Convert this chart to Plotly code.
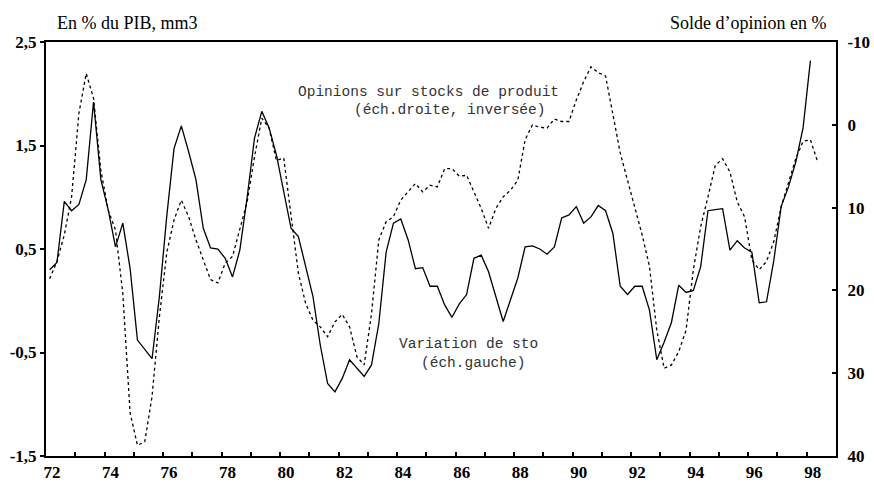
"""Variation de stocks vs opinions sur stocks de produit (dual axis, right inverted)."""

import plotly.graph_objects as go

# quarterly, first point 1972 Q1 (plotted at mid-quarter)
START_YEAR = 72.125
STEP = 0.25

variation_stocks = [
    0.30, 0.37, 0.96, 0.87, 0.93, 1.17, 1.92, 1.17, 0.88, 0.52,
    0.75, 0.31, -0.38, -0.47, -0.56, 0.04, 0.81, 1.47, 1.69, 1.44,
    1.17, 0.70, 0.51, 0.50, 0.41, 0.23, 0.49, 1.00, 1.57, 1.83,
    1.67, 1.41, 1.07, 0.70, 0.62, 0.33, 0.04, -0.43, -0.80, -0.88,
    -0.75, -0.57, -0.65, -0.73, -0.62, -0.22, 0.47, 0.75, 0.79, 0.59,
    0.31, 0.32, 0.14, 0.14, -0.04, -0.16, -0.03, 0.06, 0.41, 0.44,
    0.28, 0.04, -0.20, 0.01, 0.22, 0.52, 0.53, 0.50, 0.45, 0.52,
    0.80, 0.83, 0.91, 0.75, 0.81, 0.92, 0.87, 0.65, 0.14, 0.06,
    0.14, 0.14, -0.09, -0.57, -0.40, -0.21, 0.15, 0.08, 0.10, 0.33,
    0.87, 0.88, 0.89, 0.49, 0.58, 0.51, 0.47, -0.02, -0.01, 0.39,
    0.91, 1.10, 1.34, 1.67, 2.32,
]

opinions_stocks = [
    18.6, 16.5, 13.3, 8.7, -1.4, -6.2, -3.2, 5.5, 10.3, 12.7,
    20.4, 34.8, 38.7, 38.3, 32.8, 23.2, 15.5, 11.5, 9.1, 11.1,
    13.9, 16.3, 18.7, 19.1, 16.7, 15.9, 12.7, 9.3, 3.9, -0.8,
    0.4, 4.3, 4.0, 10.7, 17.9, 21.6, 23.6, 24.4, 25.6, 23.8,
    22.9, 24.4, 28.0, 29.0, 22.8, 13.9, 11.7, 11.1, 9.1, 8.1,
    7.1, 8.1, 7.3, 7.5, 5.3, 5.3, 6.2, 6.1, 8.1, 10.1,
    12.5, 10.1, 8.7, 7.9, 6.7, 1.8, 0.0, 0.3, 0.4, -0.7,
    -0.4, -0.4, -3.0, -5.2, -7.0, -6.3, -5.9, -1.0, 3.4, 6.7,
    9.9, 13.3, 17.1, 24.8, 29.4, 29.0, 27.4, 24.8, 17.5, 12.3,
    8.7, 4.9, 4.1, 5.7, 9.3, 11.1, 16.3, 17.5, 16.5, 14.1,
    9.9, 7.1, 4.1, 2.0, 1.8, 4.5,
]

year_ticks = list(range(72, 100))
year_labels = [str(y) if y % 2 == 0 and y < 99 else "" for y in year_ticks]

left_ticks = [-1.5, -0.5, 0.5, 1.5, 2.5]
left_labels = ["-1,5", "-0,5", "0,5", "1,5", "2,5"]
right_ticks = [-10, 0, 10, 20, 30, 40]
right_labels = ["-10", "0", "10", "20", "30", "40"]

x_solid = [START_YEAR + STEP * i for i in range(len(variation_stocks))]
x_dash = [START_YEAR + STEP * i for i in range(len(opinions_stocks))]

SERIF = "'Century Schoolbook L', 'TeX Gyre Schoolbook', C059, 'Liberation Serif', 'Times New Roman', serif"
MONO = "'Liberation Mono', 'Courier New', Courier, monospace"

fig = go.Figure()
fig.add_trace(
    go.Scatter(
        x=x_dash,
        y=opinions_stocks,
        yaxis="y2",
        mode="lines",
        line={"color": "black", "width": 1.3, "dash": "3px,3px"},
        showlegend=False,
        hoverinfo="skip",
    )
)
fig.add_trace(
    go.Scatter(
        x=x_solid,
        y=variation_stocks,
        mode="lines",
        line={"color": "black", "width": 1.3},
        showlegend=False,
        hoverinfo="skip",
    )
)

tick_font = {"family": SERIF, "size": 17, "color": "black", "weight": "bold"}

fig.update_layout(
    width=874,
    height=488,
    margin={"l": 46, "r": 38, "t": 42, "b": 32, "autoexpand": False},
    paper_bgcolor="white",
    plot_bgcolor="white",
    xaxis={
        "range": [72, 99],
        "tickvals": year_ticks,
        "ticktext": year_labels,
        "ticks": "inside",
        "ticklen": 4,
        "tickwidth": 1.5,
        "tickcolor": "black",
        "showline": True,
        "linecolor": "black",
        "linewidth": 2,
        "mirror": True,
        "showgrid": False,
        "zeroline": False,
        "tickfont": tick_font,
        "ticklabelshift": 6,
        "automargin": False,
    },
    yaxis={
        "range": [-1.5, 2.5],
        "tickvals": left_ticks,
        "ticktext": left_labels,
        "ticks": "outside",
        "ticklen": 4,
        "tickwidth": 1.5,
        "tickcolor": "black",
        "showline": True,
        "linecolor": "black",
        "linewidth": 2,
        "showgrid": False,
        "zeroline": False,
        "tickfont": tick_font,
        "automargin": False,
    },
    yaxis2={
        "overlaying": "y",
        "side": "right",
        "range": [40, -10],
        "tickvals": right_ticks,
        "ticktext": right_labels,
        "ticks": "inside",
        "ticklen": 4,
        "tickwidth": 1.5,
        "tickcolor": "black",
        "showline": True,
        "linecolor": "black",
        "linewidth": 2,
        "showgrid": False,
        "zeroline": False,
        "tickfont": tick_font,
        "ticklabelstandoff": 6,
        "automargin": False,
    },
)

title_font = {"family": SERIF, "size": 18, "color": "black"}
fig.add_annotation(
    text="En % du PIB, mm3", xref="paper", yref="paper", x=0.011, y=1.046,
    xanchor="left", yanchor="middle", showarrow=False, font=title_font,
)
fig.add_annotation(
    text="Solde d’opinion en %", xref="paper", yref="paper", x=0.99, y=1.046,
    xanchor="right", yanchor="middle", showarrow=False, font=title_font,
)

mono_font = {"family": MONO, "size": 14.5, "color": "#333333"}
notes = [
    ("Opinions sur stocks de produit", 0.317, 0.879),
    ("(éch.droite, inversée)", 0.387, 0.836),
    ("Variation de sto", 0.444, 0.2705),
    ("(éch.gauche)", 0.472, 0.2246),
]
for text, x, y in notes:
    fig.add_annotation(
        text=text, xref="paper", yref="paper", x=x, y=y,
        xanchor="left", yanchor="middle", showarrow=False, font=mono_font,
    )

# the page's default body margin would shift the figure by 8px
fig.write_html(
    "out.html",
    config={"displayModeBar": False},
    post_script="document.body.style.margin='0px';",
)
